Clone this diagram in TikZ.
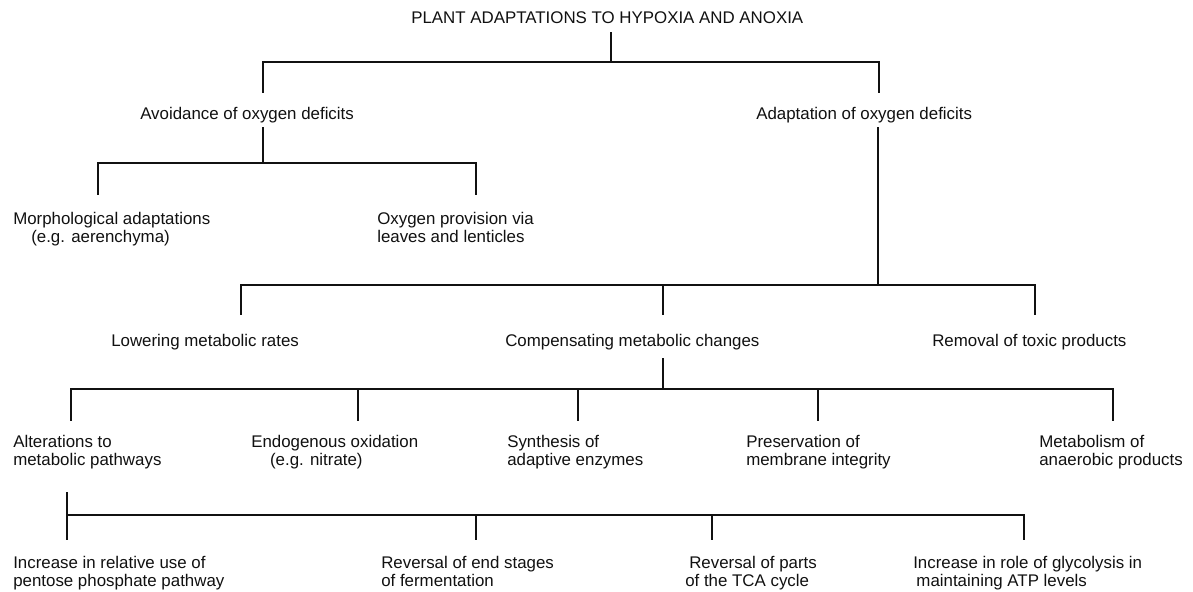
\documentclass[tikz,border=0pt]{standalone}
\usepackage{fontspec}
\setmainfont{Liberation Sans}
\usetikzlibrary{calc}
\definecolor{ink}{HTML}{111111}

\begin{document}
\begin{tikzpicture}[
  x=0.025cm, y=-0.025cm,
  txt/.style={font=\fontsize{12}{12.8}\selectfont, text=ink, inner sep=0pt, align=left, anchor=north west},
  link/.style={line width=1.8pt, draw=ink}
]
\useasboundingbox[fill=white] (0,0) rectangle (1193,592);

% ------------------------------------------------------------------
% Labels
% ------------------------------------------------------------------
\node[txt] (ttl) at (411,11) {PLANT ADAPTATIONS TO HYPOXIA AND ANOXIA};

\node[txt] (avoid) at (140,107) {Avoidance of oxygen deficits};
\node[txt] (adapt) at (756,107) {Adaptation of oxygen deficits};

\node[txt] (morph) at (13,212) {Morphological adaptations\\\hspace*{0.45cm}(e.g. aerenchyma)};
\node[txt] (oxy) at (377,212) {Oxygen provision via\\leaves and lenticles};

\node[txt] (lower) at (111,334) {Lowering metabolic rates};
\node[txt] (comp) at (505,334) {Compensating metabolic changes};
\node[txt] (remov) at (932,334) {Removal of toxic products};

\node[txt] (alter) at (13,435) {Alterations to\\metabolic pathways};
\node[txt] (endo) at (251,435) {Endogenous oxidation\\\hspace*{0.47cm}(e.g. nitrate)};
\node[txt] (synth) at (507,435) {Synthesis of\\adaptive enzymes};
\node[txt] (pres) at (746,435) {Preservation of\\membrane integrity};
\node[txt] (metab) at (1039,435) {Metabolism of\\anaerobic products};

\node[txt] (pent) at (13,556) {Increase in relative use of\\pentose phosphate pathway};
\node[txt] (ferm) at (381,556) {Reversal of end stages\\of fermentation};
\node[txt] (tca) at (689,556) {Reversal of parts\\\hspace*{-0.1cm}of the TCA cycle};
\node[txt] (glyc) at (913,556) {Increase in role of glycolysis in\\\hspace*{0.08cm}maintaining ATP levels};

% ------------------------------------------------------------------
% Stem and drop points
% ------------------------------------------------------------------
\coordinate (ttl-out) at (611,32);
\coordinate (b1) at (0,62);
\coordinate (avoid-in) at (263,93);
\coordinate (adapt-in) at (879,93);

\coordinate (avoid-out) at (263,127);
\coordinate (b2) at (0,163);
\coordinate (morph-in) at (98,195);
\coordinate (oxy-in) at (476,195);

\coordinate (adapt-out) at (878,127);
\coordinate (b3) at (0,285);
\coordinate (lower-in) at (241,315);
\coordinate (comp-in) at (663,315);
\coordinate (remov-in) at (1035,315);

\coordinate (comp-out) at (663,358);
\coordinate (b4) at (0,389);
\coordinate (alter-in) at (71,421);
\coordinate (endo-in) at (358,421);
\coordinate (synth-in) at (578,421);
\coordinate (pres-in) at (818,421);
\coordinate (metab-in) at (1113,421);

\coordinate (alter-out) at (67,492);
\coordinate (b5) at (0,515);
\coordinate (pent-in) at (67,540);
\coordinate (ferm-in) at (476,540);
\coordinate (tca-in) at (712,540);
\coordinate (glyc-in) at (1024,540);

% ------------------------------------------------------------------
% Brackets
% ------------------------------------------------------------------
\foreach \c in {avoid-in,adapt-in}
  \draw[link] (ttl-out) -- (ttl-out |- b1) -| (\c);
\foreach \c in {morph-in,oxy-in}
  \draw[link] (avoid-out) -- (avoid-out |- b2) -| (\c);
\foreach \c in {lower-in,comp-in,remov-in}
  \draw[link] (adapt-out) -- (adapt-out |- b3) -| (\c);
\foreach \c in {alter-in,endo-in,synth-in,pres-in,metab-in}
  \draw[link] (comp-out) -- (comp-out |- b4) -| (\c);
\foreach \c in {pent-in,ferm-in,tca-in,glyc-in}
  \draw[link] (alter-out) -- (alter-out |- b5) -| (\c);

\end{tikzpicture}
\end{document}
